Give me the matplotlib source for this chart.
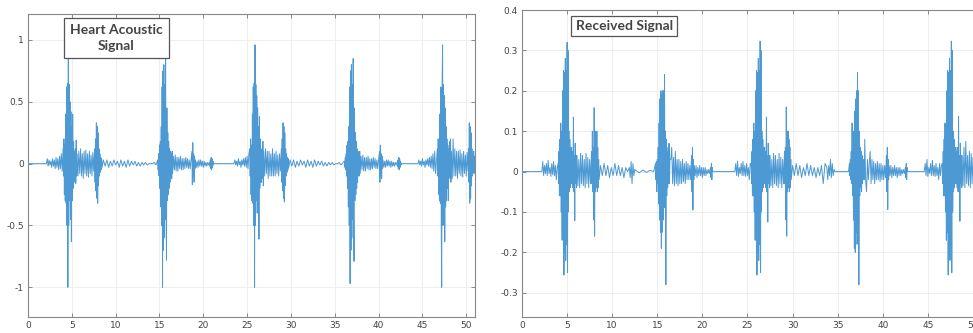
import numpy as np
import matplotlib
matplotlib.use("Agg")
import matplotlib.pyplot as plt

# ---------------- data: (start time, sample step, sampled values) ----------------
# Heart acoustic signal (left panel)
left_beat1 = [
    (0.0, 2.1, [0.0, 0.0]),
    (2.2, 0.1, [0.04, -0.02, 0.03, -0.01, 0.02, -0.03, 0.04, -0.02, 0.03, -0.04, 0.05, -0.03, 0.04, -0.05, 0.06, -0.04, 0.08, -0.06]),
    (4.0, 0.05, [0.12, -0.1, 0.2, -0.25, 0.15, -0.3, 0.4, -0.32, 0.62, -0.5, 0.65, -1.0, 0.96, -0.5, 0.64, -0.3, 0.5, -0.45, 0.42, -0.63, 0.3, -0.3, 0.4, -0.2, 0.18, -0.12, 0.1, -0.15, 0.12, -0.16, 0.19, -0.1]),
    (5.6, 0.1, [0.08, -0.1, 0.1, -0.08, 0.12, -0.1, 0.08, -0.12, 0.1, -0.08, 0.11, -0.1, 0.08, -0.11, 0.1, -0.08, 0.07, -0.1, 0.09, -0.06]),
    (7.6, 0.05, [0.12, -0.15, 0.2, -0.22, 0.33, -0.28, 0.3, -0.32, 0.25, -0.18, 0.12, -0.1, 0.08, -0.07, 0.05, -0.05, 0.04, -0.03]),
    (8.6, 0.2, [0.03, -0.02, 0.03, -0.03, 0.02, -0.02, 0.03, -0.01, 0.02, -0.03, 0.03, -0.02, 0.02, -0.03, 0.03, -0.02, 0.02, -0.01, 0.02, -0.02, 0.01, -0.02, 0.01, -0.01, 0.01, -0.01, 0.0, 0.0, 0.0, 0.01, -0.01]),
]
left_beat2 = [
    (14.8, 0.05, [0.03, -0.05, 0.08, -0.1, 0.15, -0.2, 0.18, -0.35, 0.3, -0.5, 0.62, -1.0, 0.75, -0.7, 0.8, -0.6, 0.64, -0.45, 0.86, -0.4, -0.78, 0.45, -0.3, 0.25, -0.25, 0.18, -0.2, 0.12, -0.15, 0.1, -0.1, 0.08, -0.12, 0.1, -0.08]),
    (16.6, 0.1, [0.06, -0.05, 0.07, -0.06, 0.05, -0.06, 0.05, -0.04, 0.06, -0.05, 0.04, -0.05, 0.04, -0.04, 0.05, -0.03, 0.04, -0.04, 0.03, -0.04, 0.03]),
    (18.7, 0.05, [0.1, -0.17, 0.17, -0.1, 0.08, -0.15, 0.06, -0.04]),
    (19.1, 0.1, [0.03, -0.03, 0.02, -0.03, 0.03, -0.02, 0.03, -0.02, 0.02, -0.03, 0.02, -0.02, 0.01, -0.02, 0.01, -0.01]),
    (20.7, 0.05, [0.01, -0.02, 0.03, -0.04, 0.05, -0.05, 0.04, -0.03, 0.02, -0.01, 0.0]),
    (21.3, 2.2, [0.0, 0.0]),
    (23.6, 0.1, [0.03, -0.01, 0.02, -0.02, 0.04, -0.01, 0.02, -0.03, 0.03, -0.01, 0.04, -0.02, 0.05, -0.03, 0.06, -0.04, 0.08]),
]
left_beat3 = [
    (25.3, 0.05, [0.12, -0.1, 0.2, -0.25, 0.15, -0.3, 0.4, -0.32, 0.62, -0.5, 0.65, -1.0, 0.96, -0.5, 0.64, -0.3, 0.55, -0.4, 0.45, -0.35, 0.3, -0.61, 0.38, -0.2, 0.2, -0.15, 0.12, -0.15, 0.1, -0.12, 0.18, -0.18]),
    (26.9, 0.1, [0.1, -0.1, 0.12, -0.08, 0.1, -0.12, 0.1, -0.1, 0.08, -0.1, 0.12, -0.1, 0.08, -0.1, 0.1, -0.08, 0.07, -0.1, 0.08, -0.06]),
    (28.9, 0.05, [0.12, -0.15, 0.2, -0.22, 0.33, -0.28, 0.3, -0.31, 0.25, -0.18, 0.12, -0.1, 0.08, -0.07, 0.05, -0.05, 0.04, -0.03]),
    (29.9, 0.2, [0.03, -0.02, 0.03, -0.03, 0.02, -0.02, 0.03, -0.01, 0.02, -0.03, 0.03, -0.02, 0.02, -0.03, 0.03, -0.02, 0.02, -0.01, 0.02, -0.02, 0.01, -0.02, 0.01, -0.01, 0.01, -0.01, 0.0, 0.0, 0.01, -0.01]),
]
left_beat4 = [
    (36.1, 0.05, [0.02, -0.03, 0.05, -0.05, 0.08, -0.1, 0.15, -0.2, 0.18, -0.35, 0.3, -0.5, 0.62, -0.97, 0.75, -0.7, 0.8, -0.6, 0.64, -0.45, 0.85, -0.4, -0.79, 0.45, -0.3, 0.25, -0.25, 0.18, -0.2, 0.12, -0.15, 0.1, -0.1, 0.08, -0.1, 0.1, -0.08]),
    (38.0, 0.1, [0.06, -0.05, 0.07, -0.06, 0.05, -0.06, 0.05, -0.04, 0.06, -0.05, 0.04, -0.05, 0.04, -0.04, 0.05, -0.03, 0.04, -0.04, 0.03, -0.04, 0.03]),
    (40.1, 0.05, [0.1, -0.15, 0.15, -0.1, 0.08, -0.12, 0.06, -0.04]),
    (40.5, 0.1, [0.03, -0.03, 0.02, -0.03, 0.03, -0.02, 0.03, -0.02, 0.02, -0.03, 0.02, -0.02, 0.01, -0.02, 0.01, -0.01]),
    (42.1, 0.05, [0.01, -0.02, 0.03, -0.04, 0.05, -0.05, 0.04, -0.03, 0.02, -0.01, 0.0]),
    (42.7, 1.8, [0.0, 0.0]),
    (44.6, 0.1, [0.03, -0.01, 0.02, -0.02, 0.04, -0.01, 0.02, -0.03, 0.03, -0.01, 0.04, -0.02, 0.05, -0.03, 0.06, -0.04, 0.08, -0.06, 0.1, -0.08]),
]
left_beat5 = [
    (46.7, 0.05, [0.12, -0.1, 0.2, -0.25, 0.15, -0.3, 0.4, -0.32, 0.62, -0.5, -1.0, 0.65, 0.96, -0.5, 0.64, -0.3, 0.55, -0.63, 0.45, -0.35, 0.3, -0.3, 0.2, -0.2, 0.15, -0.3, 0.12, -0.1, 0.18, -0.12, 0.2, -0.15]),
    (48.3, 0.1, [0.1, -0.12, 0.2, -0.1, 0.12, -0.1, 0.1, -0.12, 0.1, -0.08, 0.11, -0.1, 0.08, -0.11, 0.1, -0.08, 0.07, -0.1, 0.09, -0.06]),
    (50.25, 0.05, [0.12, -0.15, 0.33, -0.32, 0.3, -0.28, 0.25, -0.18, 0.12, -0.1, 0.08, -0.07, 0.1, -0.08, 0.06]),
]

# Received signal (right panel)
right_beat1 = [
    (0.0, 2.2, [0.0, 0.0]),
    (2.3, 0.1, [0.025, -0.01, 0.015, -0.005, 0.02, -0.01, 0.028, -0.005, 0.01, -0.012, 0.02, -0.008, 0.025, -0.01, 0.015, -0.02, 0.01]),
    (4.0, 0.05, [0.02, -0.03, 0.05, -0.06, 0.08, -0.06, 0.12, -0.1, 0.1, -0.17, 0.2, -0.15, 0.25, -0.256, 0.245, -0.2, 0.28, -0.22, 0.25, -0.18, 0.32, -0.25, 0.3, -0.1, 0.1, -0.05, 0.08, -0.04, 0.06, -0.03]),
    (5.5, 0.05, [0.06, -0.03, 0.05, -0.04, 0.135, -0.05, 0.04, -0.122, 0.07, -0.03, 0.04, -0.04]),
    (6.1, 0.1, [0.04, -0.035, 0.03, -0.04, 0.045, -0.03, 0.04, -0.035, 0.03, -0.04, 0.045, -0.03, 0.035, -0.04, 0.03, -0.03]),
    (7.7, 0.05, [0.05, -0.03, 0.1, -0.05, 0.06, -0.12, 0.158, -0.16, 0.1, -0.05, 0.08, -0.04, 0.1, -0.05, 0.06, -0.04, 0.03, -0.02]),
    (8.7, 0.2, [0.015, -0.01, 0.02, -0.01, 0.015, -0.015, 0.01, -0.01, 0.02, -0.01, 0.015, -0.01, 0.01, -0.015, 0.01, 0.0]),
    (11.9, 0.1, [0.01, -0.015, 0.025, -0.03, 0.02, -0.01, 0.005]),
    (12.6, 0.4, [0.003, -0.003, 0.004, -0.002, 0.003, 0.0]),
]
right_beat2 = [
    (14.8, 0.05, [0.02, -0.02, 0.025, -0.05, 0.03, -0.03, 0.06, -0.08, 0.12, -0.12, 0.18, -0.15, 0.2, -0.19, 0.19, -0.15, 0.2, -0.12, 0.2, -0.09, 0.24, -0.05, 0.1, -0.28, 0.08, -0.06, 0.05, -0.04, 0.06, -0.03, 0.07, -0.03, 0.03]),
    (16.5, 0.1, [0.03, 0.06, -0.03, 0.035, -0.035, 0.05, -0.03, 0.03, -0.035, 0.03, -0.03, 0.025, -0.03, 0.03, -0.025, 0.02, -0.03, 0.025, -0.02, 0.02, -0.02, 0.015, -0.02]),
    (18.8, 0.05, [0.04, -0.05, 0.06, -0.095, 0.03, -0.02]),
    (19.1, 0.1, [0.015, -0.01, 0.015, -0.015, 0.01, -0.01, 0.015, -0.01, 0.01, -0.015, 0.01, -0.01, 0.01, -0.01, 0.005, -0.005, 0.005, -0.005]),
    (20.9, 0.05, [0.01, -0.015, 0.02, -0.02, 0.01, 0.0]),
    (21.3, 2.3, [0.0, 0.0]),
    (23.7, 0.1, [0.02, -0.01, 0.026, -0.012, 0.01, -0.005, 0.02, -0.01, 0.025, -0.01, 0.015, -0.012, 0.02, -0.01, 0.01, -0.02, 0.02]),
]
right_beat3 = [
    (25.4, 0.05, [0.02, -0.03, 0.05, -0.06, 0.08, -0.06, 0.12, -0.1, 0.1, -0.17, 0.2, -0.15, 0.25, -0.256, 0.245, -0.2, 0.28, -0.22, 0.25, -0.18, 0.323, -0.25, 0.3, -0.1, 0.1, -0.05, 0.08, -0.04, 0.06, -0.03]),
    (26.9, 0.05, [0.06, -0.03, 0.05, -0.04, 0.135, -0.05, 0.04, -0.125, 0.07, -0.03, 0.04, -0.04]),
    (27.5, 0.1, [0.04, -0.035, 0.03, -0.04, 0.045, -0.03, 0.04, -0.035, 0.03, -0.04, 0.045, -0.03, 0.035, -0.04, 0.03, -0.03]),
    (29.1, 0.05, [0.05, -0.03, 0.06, -0.12, 0.16, -0.16, 0.1, -0.05, 0.1, -0.04, 0.08, -0.05, 0.06, -0.04, 0.03, -0.02]),
    (30.0, 0.2, [0.015, -0.01, 0.02, -0.01, 0.015, -0.015, 0.01, -0.01, 0.02, -0.01, 0.015, -0.01, 0.01, -0.015, 0.01, -0.01, 0.015, -0.03, 0.02]),
    (33.8, 0.1, [0.01, -0.02, 0.015, -0.01, 0.03, -0.015, 0.02, -0.01, 0.005, 0.0]),
    (34.8, 1.4, [0.0, 0.0]),
]
right_beat4 = [
    (36.3, 0.05, [0.02, -0.01, 0.03, -0.02, 0.05, -0.03, 0.12, -0.06, 0.08, -0.12, 0.1, -0.19, 0.15, -0.2, 0.18, -0.15, 0.2, -0.18, 0.245, -0.1, 0.2, -0.28, 0.1, -0.06, 0.06, -0.04, 0.05, -0.05, 0.04, -0.03, 0.03, -0.02, 0.03, -0.02]),
    (38.0, 0.1, [0.08, -0.02, -0.05, 0.03, -0.02, 0.02, 0.05, -0.03, 0.03, -0.02, 0.025, -0.03, 0.02, -0.02, 0.025, -0.02, 0.02, -0.025, 0.02, -0.02, 0.015, -0.02, 0.015, -0.015]),
    (40.4, 0.05, [0.04, -0.05, 0.06, -0.094, 0.03, -0.02]),
    (40.7, 0.1, [0.015, -0.01, 0.015, -0.015, 0.01, -0.01, 0.015, -0.01, 0.01, -0.015, 0.01, -0.01, 0.01, -0.01, 0.005, -0.005, 0.005, -0.005]),
    (42.5, 0.05, [0.01, -0.015, 0.02, -0.02, 0.01, 0.0]),
    (42.9, 1.7, [0.0, 0.0]),
    (44.7, 0.1, [0.02, -0.01, 0.03, -0.012, 0.01, -0.005, 0.02, -0.01, 0.028, -0.01, 0.015, -0.012, 0.02, -0.01, 0.01, -0.02, 0.02, -0.01, 0.015]),
]
right_beat5 = [
    (46.6, 0.05, [0.02, -0.03, 0.05, -0.06, 0.08, -0.06, 0.12, -0.1, 0.1, -0.17, 0.2, -0.15, 0.25, -0.256, 0.245, -0.2, 0.28, -0.22, 0.25, -0.18, 0.323, -0.25, 0.3, -0.1, 0.1, -0.05, 0.08, -0.04, 0.06, -0.03]),
    (48.1, 0.05, [0.06, -0.03, 0.05, -0.04, 0.06, -0.05, 0.137, -0.05, 0.04, -0.123, 0.07, -0.03, 0.04, -0.04]),
    (48.8, 0.1, [0.04, -0.035, 0.06, -0.04, 0.075, -0.03, 0.04, -0.035, 0.05, -0.04, 0.045, -0.03, 0.035, -0.04, 0.03, -0.03, 0.04, -0.03, 0.035, -0.04, 0.03, -0.03, 0.02]),
]

x_ticks = [0, 5, 10, 15, 20, 25, 30, 35, 40, 45, 50]
left_yticks = [-1, -0.5, 0, 0.5, 1]
left_ylabels = ["-1", "-0.5", "0", "0.5", "1"]
right_yticks = [-0.3, -0.2, -0.1, 0, 0.1, 0.2, 0.3, 0.4]
right_ylabels = ["-0.3", "-0.2", "-0.1", "0", "0.1", "0.2", "0.3", "0.4"]
left_title = "Heart Acoustic\nSignal"
right_title = "Received Signal"


def build(*beats):
    t, y = [], []
    for beat in beats:
        for start, step, vals in beat:
            for i, v in enumerate(vals):
                t.append(start + i * step)
                y.append(v)
    return np.array(t), np.array(y)


lt, ly = build(left_beat1, left_beat2, left_beat3, left_beat4, left_beat5)
rt, ry = build(right_beat1, right_beat2, right_beat3, right_beat4, right_beat5)

W, H = 973, 333
fig = plt.figure(figsize=(W / 100, H / 100), dpi=100)
ax1 = fig.add_axes([28 / W, 16 / H, 447 / W, 303 / H])
ax2 = fig.add_axes([522 / W, 16 / H, 460 / W, 307 / H])

LINE = "#4c99d4"


def style(ax, yt, yl, ylim):
    ax.set_xlim(0, 51)
    ax.set_ylim(*ylim)
    ax.set_xticks(x_ticks)
    ax.set_xticklabels([str(v) for v in x_ticks])
    ax.set_yticks(yt)
    ax.set_yticklabels(yl)
    ax.grid(True, color="#ebebeb", lw=0.6)
    ax.set_axisbelow(True)
    ax.tick_params(direction="in", length=3, width=0.6, colors="#777",
                   labelcolor="#444", labelsize=6.5, top=True, right=True, pad=3)
    for s in ax.spines.values():
        s.set_color("#888")
        s.set_linewidth(0.8)


ax1.plot(lt, ly, color=LINE, lw=0.7)
style(ax1, left_yticks, left_ylabels, (-1.24, 1.21))
ax2.plot(rt, ry, color=LINE, lw=0.7)
style(ax2, right_yticks, right_ylabels, (-0.36, 0.40))

box1 = dict(boxstyle="square,pad=0.45", facecolor="white", edgecolor="#555", lw=0.9)
box2 = dict(boxstyle="square,pad=0.3", facecolor="white", edgecolor="#555", lw=0.9)
ax1.text(0.198, 0.921, left_title, transform=ax1.transAxes, ha="center", va="center",
         fontsize=10, family="Lato", weight="bold", color="#444", linespacing=1.35, bbox=box1)
ax2.text(0.222, 0.948, right_title, transform=ax2.transAxes, ha="center", va="center",
         fontsize=10, family="Lato", weight="bold", color="#444", bbox=box2)

fig.savefig("out.png", dpi=100)
